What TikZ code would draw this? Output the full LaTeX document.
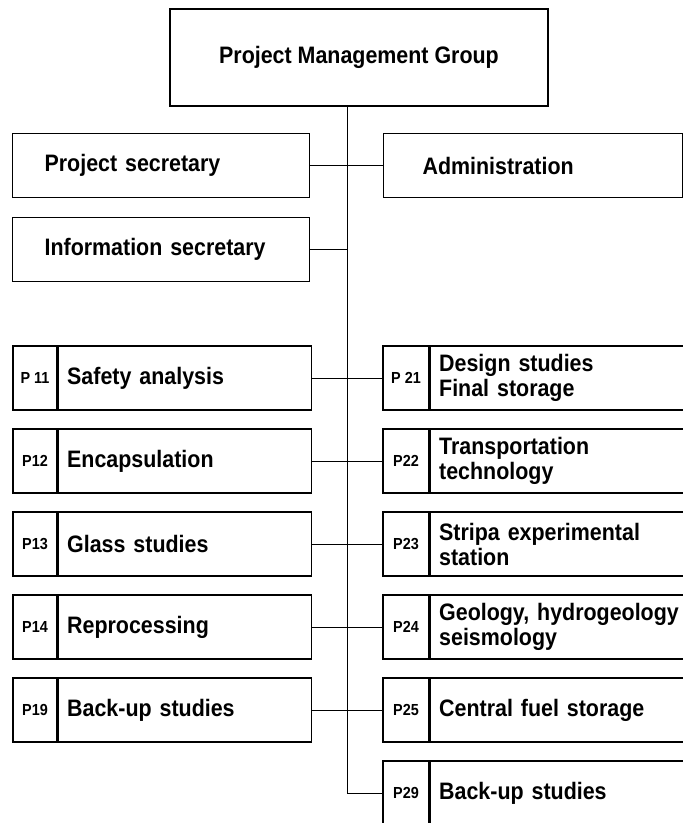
\documentclass[tikz,border=0pt]{standalone}
\usepackage{fontspec}
\setmainfont{Liberation Sans}[FakeStretch=0.9]
\usetikzlibrary{positioning}
\tikzset{
  box/.style={draw,rectangle,line width=1.2pt,inner sep=0pt,font=\bfseries\fontsize{23.8}{25}\selectfont},
  head/.style={box,text width=#1,align=left,minimum height=64pt},
  code/.style={box,minimum width=#1,minimum height=64pt,font=\bfseries\fontsize{16}{17}\selectfont},
  lbl/.style={box,text width=#1,inner xsep=9pt,minimum height=64pt,align=left},
  link/.style={line width=0.9pt}
}
\begin{document}
\begin{tikzpicture}[x=1pt,y=-1pt]
\clip (0,0) rectangle (683,823);
\node[box,minimum width=378pt,minimum height=97pt] (pmg) at (359,57.5) {Project Management Group};
\node[head=233pt,inner xsep=32pt,anchor=west] (ps) at (12,165.5) {Project secretary};
\node[head=221pt,inner xsep=39pt,anchor=west] (adm) at (383,165.5) {Administration};
\node[head=233pt,inner xsep=32pt,anchor=west] (info) at (12,249.5) {Information secretary};
\node[code=44pt] (c11) at (35,378) {P 11};
\node[lbl=235pt,right=0pt of c11] (p11) {Safety analysis};
\node[code=44pt] (c12) at (35,461) {P12};
\node[lbl=235pt,right=0pt of c12] (p12) {Encapsulation};
\node[code=44pt] (c13) at (35,544) {P13};
\node[lbl=235pt,right=0pt of c13] (p13) {Glass studies};
\node[code=44pt] (c14) at (35,627) {P14};
\node[lbl=235pt,right=0pt of c14] (p14) {Reprocessing};
\node[code=44pt] (c19) at (35,710) {P19};
\node[lbl=235pt,right=0pt of c19] (p19) {Back-up studies};
\node[code=46pt] (c21) at (406,378) {P 21};
\node[lbl=235pt,right=0pt of c21] (p21) {Design studies\\Final storage};
\node[code=46pt] (c22) at (406,461) {P22};
\node[lbl=235pt,right=0pt of c22] (p22) {Transportation\\technology};
\node[code=46pt] (c23) at (406,544) {P23};
\node[lbl=245pt,right=0pt of c23] (p23) {Stripa experimental\\station};
\node[code=46pt] (c24) at (406,627) {P24};
\node[lbl=245pt,right=0pt of c24] (p24) {Geology,~hydrogeology\\seismology};
\node[code=46pt] (c25) at (406,710) {P25};
\node[lbl=245pt,right=0pt of c25] (p25) {Central fuel storage};
\node[code=46pt] (c29) at (406,793) {P29};
\node[lbl=245pt,right=0pt of c29] (p29) {Back-up studies};
\coordinate (sp) at (347,0);
\draw[link] (pmg.south -| sp) |- (c29.west);
\draw[link] (ps.east) -- (adm.west);
\draw[link] (info.east) -- (info.east -| sp);
\draw[link] (p11.east) -- (c21.west);
\draw[link] (p12.east) -- (c22.west);
\draw[link] (p13.east) -- (c23.west);
\draw[link] (p14.east) -- (c24.west);
\draw[link] (p19.east) -- (c25.west);
\end{tikzpicture}
\end{document}
